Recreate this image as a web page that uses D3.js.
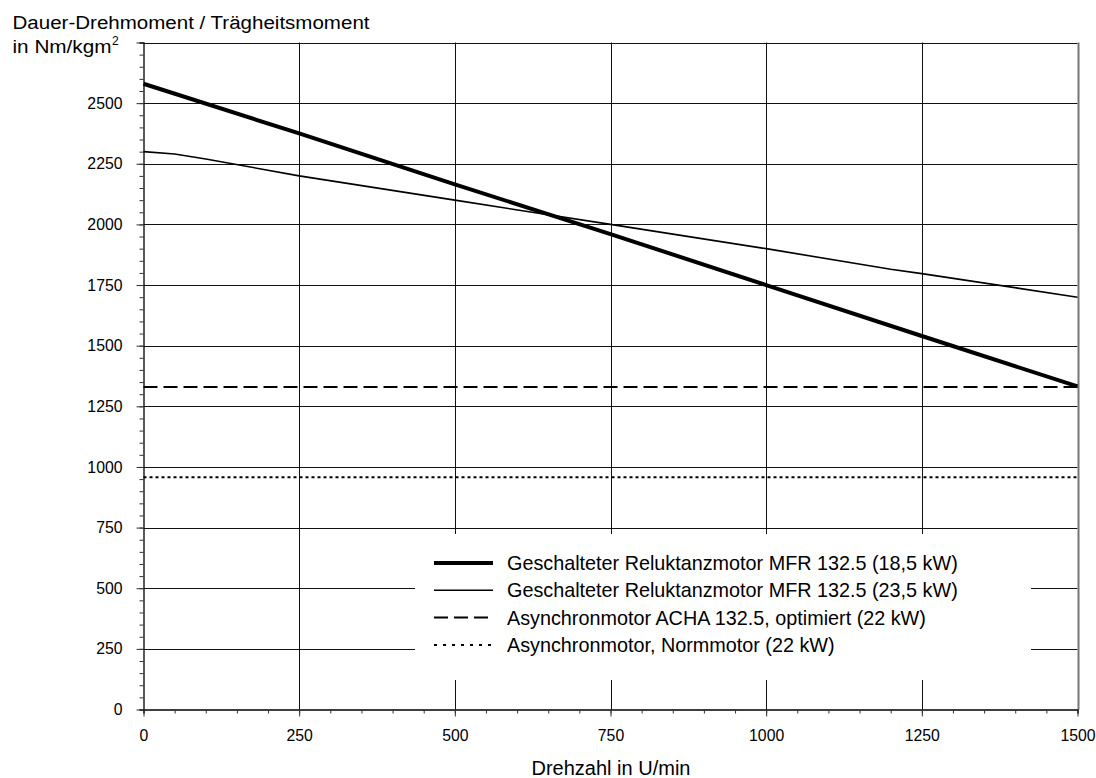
<!DOCTYPE html>
<html>
<head>
<meta charset="utf-8">
<script src="https://cdn.jsdelivr.net/npm/d3@7"></script>
<style>
  html, body { margin: 0; padding: 0; background: #fff; }
  svg { display: block; font-family: Arial, "Liberation Sans", sans-serif; }
</style>
</head>
<body>
<svg id="chart" width="1096" height="778"></svg>
<script>
// Drehzahl (U/min) and Dauer-Drehmoment / Trägheitsmoment (Nm/kgm²)
const srm185Speed  = [0, 250, 500, 750, 1000, 1250, 1500];
const srm185Value  = [2580, 2375, 2165, 1960, 1750, 1540, 1332];

const srm235Speed  = [0, 50, 100, 250, 500, 750, 1000, 1200, 1250, 1500];
const srm235Value  = [2300, 2290, 2270, 2200, 2100, 2000, 1900, 1815, 1797, 1700];

const achaSpeed    = [0, 1500];
const achaValue    = [1330, 1330];

const normSpeed    = [0, 1500];
const normValue    = [958, 958];

const legendLabels = [
  "Geschalteter Reluktanzmotor MFR 132.5 (18,5 kW)",
  "Geschalteter Reluktanzmotor MFR 132.5 (23,5 kW)",
  "Asynchronmotor ACHA 132.5, optimiert (22 kW)",
  "Asynchronmotor, Normmotor (22 kW)"
];

const xTicks = [0, 250, 500, 750, 1000, 1250, 1500];
const yTicks = [0, 250, 500, 750, 1000, 1250, 1500, 1750, 2000, 2250, 2500];

const svg = d3.select("#chart");

const x = d3.scaleLinear().domain([0, 1500]).range([143.5, 1077.5]);
const y = d3.scaleLinear().domain([0, 2750]).range([709.5, 42.5]);

const series = [
  { sx: srm185Speed, sy: srm185Value, width: 4,   dash: null,  legendDash: null },
  { sx: srm235Speed, sy: srm235Value, width: 1.6, dash: null,  legendDash: null },
  { sx: achaSpeed,   sy: achaValue,   width: 2,   dash: "14,6", legendDash: "14,6" },
  { sx: normSpeed,   sy: normValue,   width: 2,   dash: "3,3",  legendDash: "3,6" }
];

// grid
const grid = svg.append("g").attr("stroke", "#111").attr("stroke-width", 1);
grid.selectAll("line.h").data(yTicks.filter(d => d > 0).concat([2750])).join("line")
  .attr("x1", x(0)).attr("x2", x(1500))
  .attr("y1", d => Math.round(y(d)) + 0.5).attr("y2", d => Math.round(y(d)) + 0.5);
grid.selectAll("line.v").data(xTicks.filter(d => d > 0)).join("line")
  .attr("x1", d => Math.round(x(d)) + 0.5).attr("x2", d => Math.round(x(d)) + 0.5)
  .attr("y1", y(2750)).attr("y2", y(0))
  .attr("stroke", d => d === 1500 ? "#777" : "#111")
  .attr("stroke-width", d => d === 1500 ? 2 : 1);

// data lines
const line = d3.line().x(d => x(d[0])).y(d => y(d[1]));
series.forEach(s => {
  const pts = s.sx.map((v, i) => [v, s.sy[i]]);
  svg.append("path")
    .attr("d", line(pts))
    .attr("fill", "none")
    .attr("stroke", "#000")
    .attr("stroke-width", s.width)
    .attr("stroke-linejoin", "round")
    .attr("stroke-dasharray", s.dash);
});

// axes
const yAxis = svg.append("g").attr("transform", `translate(${x(0)},0)`);
yAxis.call(d3.axisLeft(y).tickValues(d3.range(0, 2751, 50)).tickSize(4).tickFormat(""));
yAxis.call(g => g.selectAll(".tick line").attr("stroke", "#333"));
yAxis.append("g").call(d3.axisLeft(y).tickValues(d3.range(0, 2751, 250)).tickSize(7)
  .tickFormat(d => yTicks.includes(d) ? d : ""))
  .call(g => g.select(".domain").remove())
  .call(g => g.selectAll(".tick line").attr("stroke", "#333"))
  .call(g => g.selectAll(".tick text").attr("font-size", 15.8).attr("fill", "#000").attr("x", -21));
yAxis.select(".domain").attr("stroke", "#000").attr("stroke-width", 1.3);
yAxis.attr("font-family", null);

const xAxis = svg.append("g").attr("transform", `translate(0,${y(0)})`);
xAxis.call(d3.axisBottom(x).tickValues(d3.range(0, 1501, 50)).tickSize(4).tickFormat(""));
xAxis.call(g => g.selectAll(".tick line").attr("stroke", "#333"));
xAxis.append("g").call(d3.axisBottom(x).tickValues(xTicks).tickSize(7).tickFormat(d => d))
  .call(g => g.select(".domain").remove())
  .call(g => g.selectAll(".tick line").attr("stroke", "#333"))
  .call(g => g.selectAll(".tick text").attr("font-size", 15.8).attr("fill", "#000").attr("y", 20));
xAxis.select(".domain").attr("stroke", "#000").attr("stroke-width", 1.3);
xAxis.attr("font-family", null);

// legend
const lg = svg.append("g");
lg.append("rect").attr("x", 415).attr("y", 534).attr("width", 616).attr("height", 146).attr("fill", "#fff");
legendLabels.forEach((label, i) => {
  const cy = 563 + i * 27.3;
  const s = series[i];
  lg.append("line").attr("x1", 434).attr("x2", 493).attr("y1", cy).attr("y2", cy)
    .attr("stroke", "#000").attr("stroke-width", s.width).attr("stroke-dasharray", s.legendDash);
  lg.append("text").attr("x", 507).attr("y", cy).attr("dy", "0.36em")
    .attr("font-size", 19.8).attr("fill", "#000").text(label);
});

// axis titles
svg.append("text").attr("x", 12.5).attr("y", 28.5).attr("font-size", 18).attr("fill", "#000")
  .attr("textLength", 357).attr("lengthAdjust", "spacingAndGlyphs")
  .text("Dauer-Drehmoment / Trägheitsmoment");
svg.append("text").attr("x", 12.5).attr("y", 53).attr("font-size", 18).attr("fill", "#000")
  .attr("textLength", 99).attr("lengthAdjust", "spacingAndGlyphs")
  .text("in Nm/kgm");
svg.append("text").attr("x", 112).attr("y", 45).attr("font-size", 12).attr("fill", "#000").text("2");

svg.append("text").attr("x", 611).attr("y", 775).attr("text-anchor", "middle")
  .attr("font-size", 20).attr("fill", "#000").text("Drehzahl in U/min");
</script>
</body>
</html>
